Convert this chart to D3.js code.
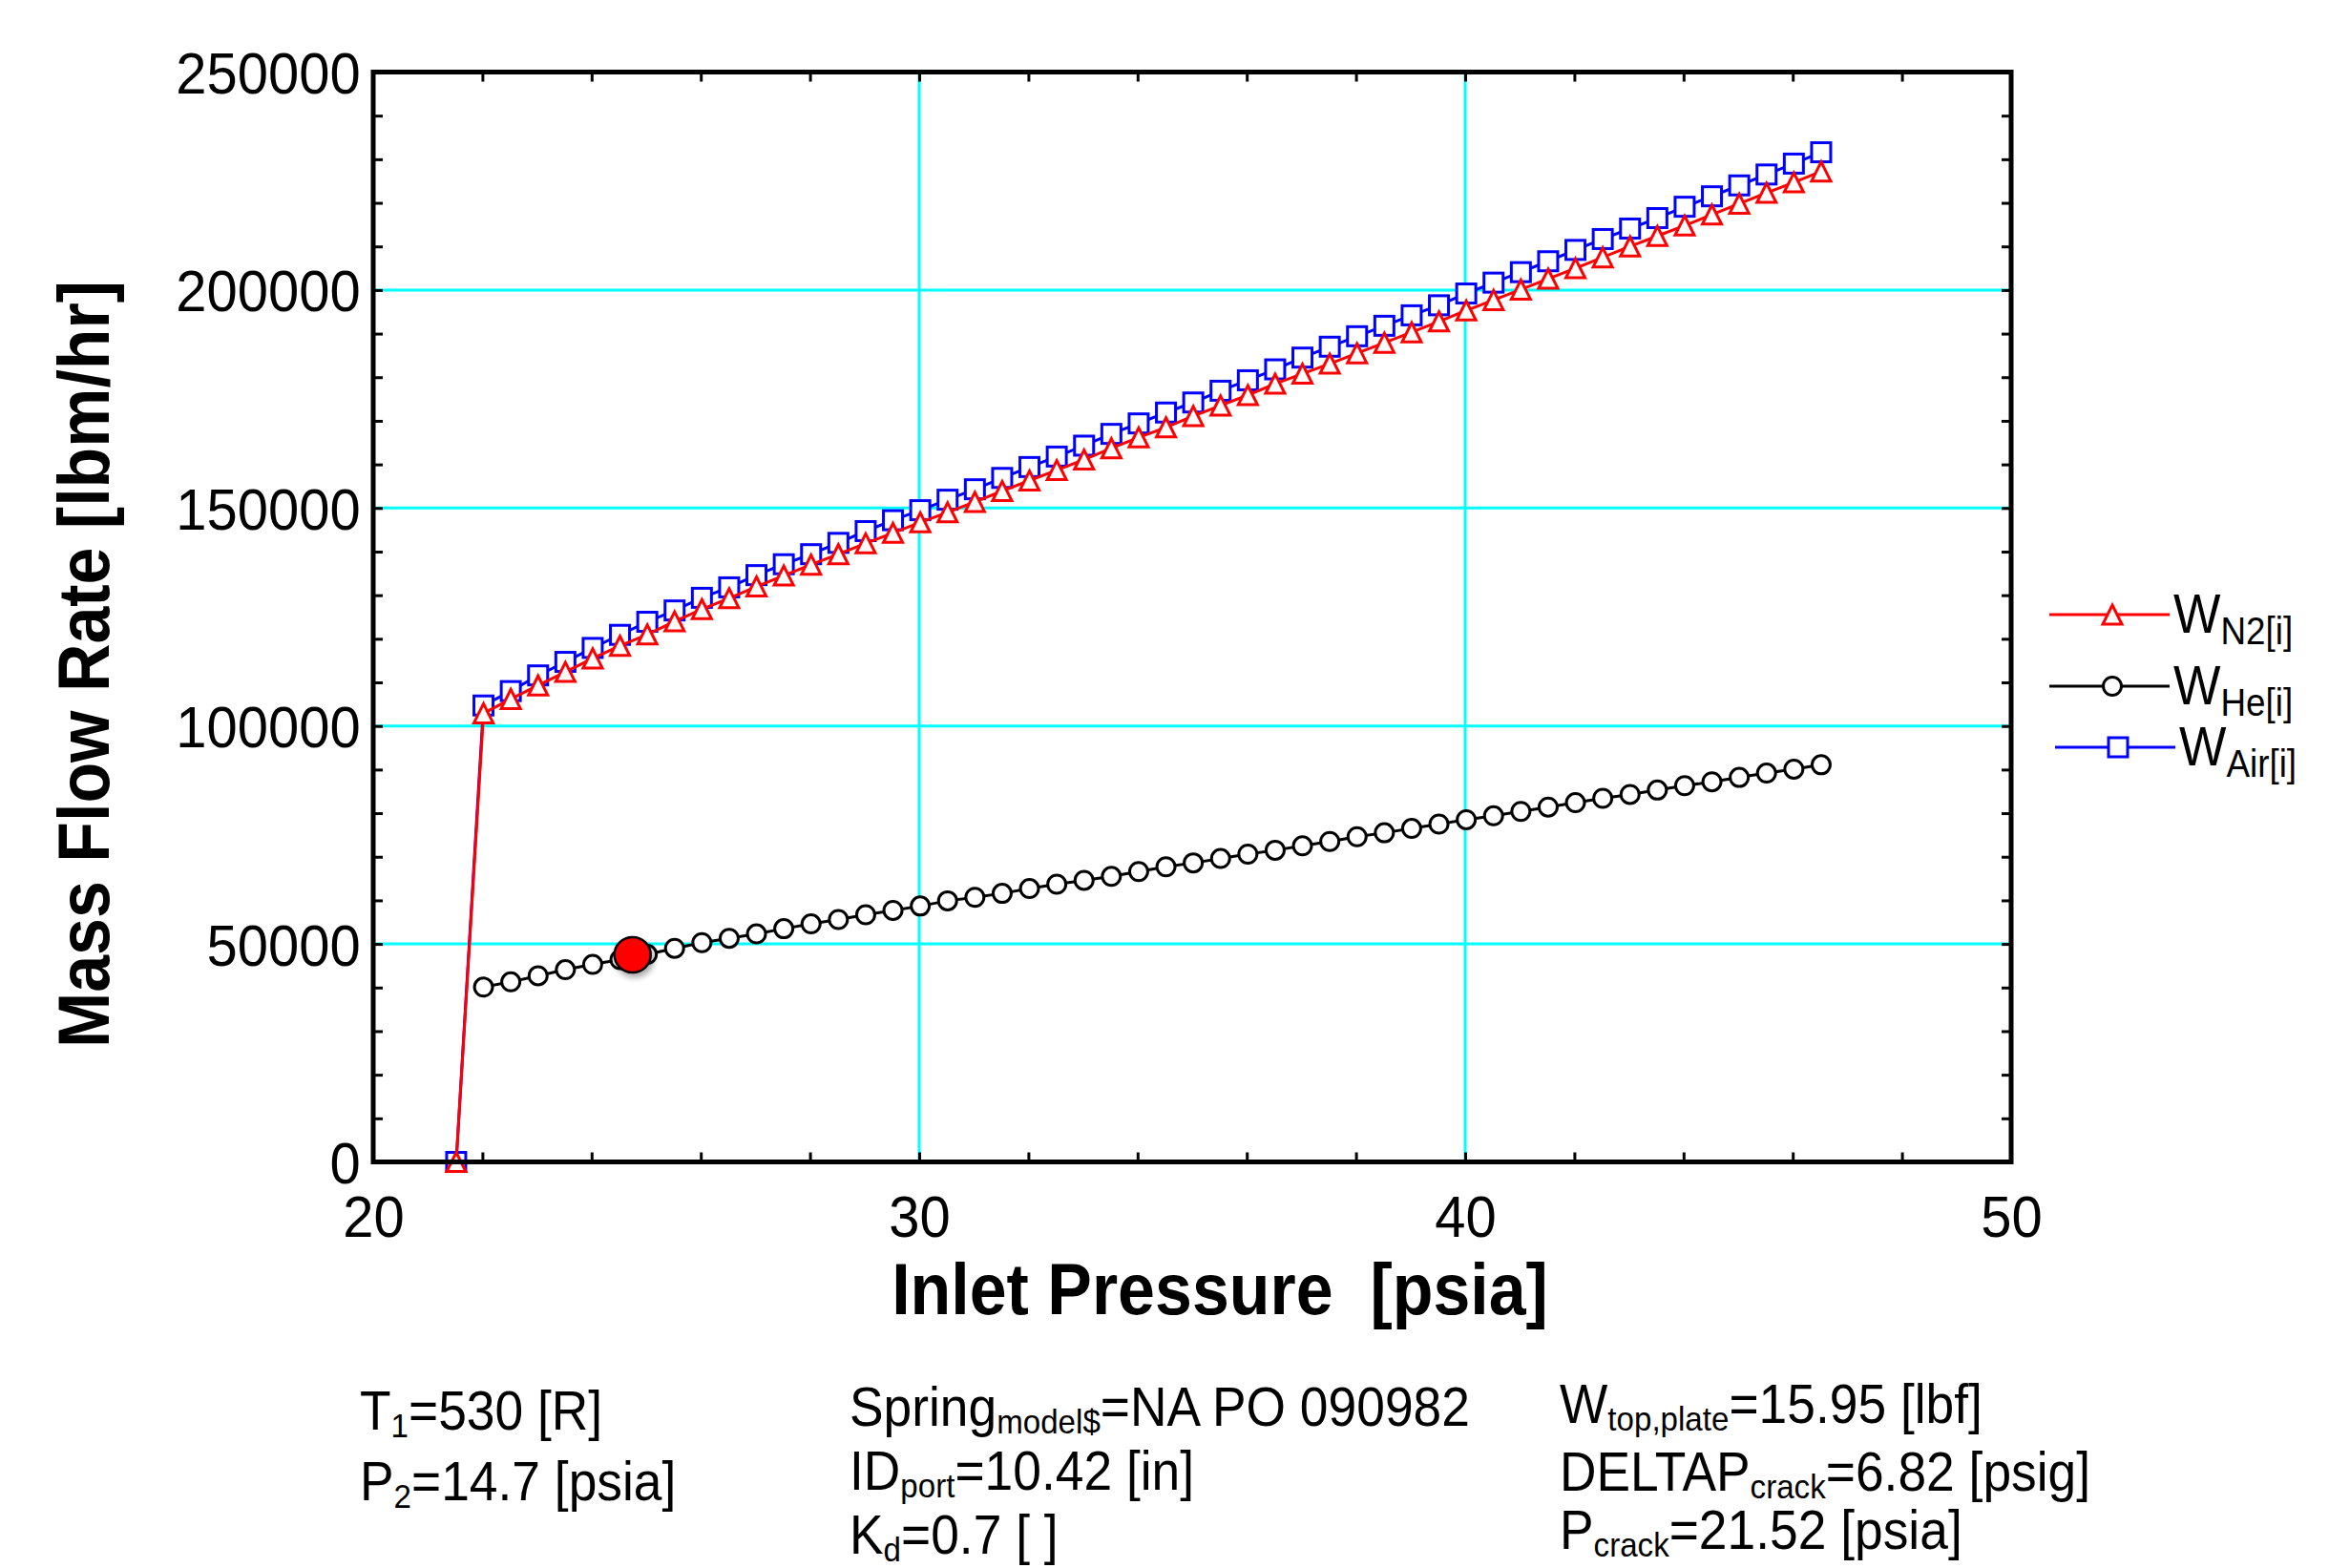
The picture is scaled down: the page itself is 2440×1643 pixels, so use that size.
<!DOCTYPE html>
<html>
<head>
<meta charset="utf-8">
<script src="https://cdn.jsdelivr.net/npm/d3@7"></script>
<style>
  body { margin: 0; background: #fff; }
  svg text { font-family: "Liberation Sans", Arial, sans-serif; fill: #000; }
</style>
</head>
<body>
<div id="chart"></div>
<script>
// Mass flow rate vs inlet pressure

const pressure = [21.52, 22.02, 22.52, 23.02, 23.52, 24.02, 24.52, 25.02, 25.52, 26.02,
    26.52, 27.02, 27.52, 28.02, 28.52, 29.02, 29.52, 30.02, 30.52, 31.02,
    31.52, 32.02, 32.52, 33.02, 33.52, 34.02, 34.52, 35.02, 35.52, 36.02,
    36.52, 37.02, 37.52, 38.02, 38.52, 39.02, 39.52, 40.02, 40.52, 41.02,
    41.52, 42.02, 42.52, 43.02, 43.52, 44.02, 44.52, 45.02, 45.52, 46.02, 46.52];

const wAir = [0, 104700, 108000, 111600, 114700, 117900, 120900, 123900, 126500, 129400,
    131800, 134600, 137100, 139400, 142000, 144700, 147200, 149500, 151900, 154300,
    156900, 159400, 161800, 164300, 167000, 169400, 171900, 174200, 176900, 179300,
    181800, 184500, 187000, 189400, 191800, 194200, 196500, 199200, 201700, 204100,
    206600, 209200, 211700, 214100, 216500, 219100, 221500, 224000, 226500, 229000, 231600];

const wN2 = [0, 102900, 106200, 109300, 112400, 115500, 118400, 121000, 124000, 126800,
    129300, 132000, 134500, 137000, 139400, 141900, 144300, 146700, 149000, 151400,
    153900, 156300, 158700, 161100, 163700, 166200, 168500, 171100, 173500, 175900,
    178500, 180800, 183100, 185500, 187900, 190300, 192800, 195300, 197700, 200100,
    202600, 205000, 207500, 210000, 212400, 214800, 217300, 219800, 222300, 224700, 227200];

// no helium value at the crack pressure
const wHe = [null, 40100, 41300, 42700, 44100, 45300, 46400, 47600, 49000, 50300,
    51300, 52300, 53500, 54600, 55600, 56700, 57700, 58700, 59900, 60700,
    61600, 62700, 63700, 64600, 65500, 66600, 67700, 68600, 69600, 70600,
    71500, 72500, 73500, 74600, 75500, 76500, 77500, 78500, 79400, 80400,
    81400, 82400, 83400, 84300, 85300, 86300, 87200, 88200, 89200, 90100, 91100];

const operatingPoint = {p: 24.75, w: 47500};

const xTicks = [20, 30, 40, 50];
const xMinorTicks = d3.range(20, 51, 2);
const yTicks = [0, 50000, 100000, 150000, 200000, 250000];
const yMinorTicks = d3.range(0, 250001, 10000);
const xGrid = [30, 40];
const yGrid = [50000, 100000, 150000, 200000];

const seriesNames = ["N2[i]", "He[i]", "Air[i]"];

const notes = [
    {x: 377, y: 1498, parts: [["T"], ["1", 1], ["=530 [R]"]]},
    {x: 377, y: 1572, parts: [["P"], ["2", 1], ["=14.7 [psia]"]]},
    {x: 890, y: 1494, parts: [["Spring"], ["model$", 1], ["=NA PO 090982"]]},
    {x: 890, y: 1561, parts: [["ID"], ["port", 1], ["=10.42 [in]"]]},
    {x: 890, y: 1628, parts: [["K"], ["d", 1], ["=0.7 [ ]"]]},
    {x: 1634, y: 1491, parts: [["W"], ["top,plate", 1], ["=15.95 [lbf]"]]},
    {x: 1634, y: 1562, parts: [["DELTAP"], ["crack", 1], ["=6.82 [psig]"]]},
    {x: 1634, y: 1623, parts: [["P"], ["crack", 1], ["=21.52 [psia]"]]}
];

const width = 2440, height = 1643;
const squish = 0.92;

const x = d3.scaleLinear().domain([20, 50]).range([391, 2107]);
const y = d3.scaleLinear().domain([0, 250000]).range([1217.5, 75.5]);

const svg = d3.select("#chart").append("svg")
    .attr("width", width)
    .attr("height", height);

const defs = svg.append("defs");
const shadow = defs.append("filter").attr("id", "shadow")
    .attr("x", "-50%").attr("y", "-50%").attr("width", "200%").attr("height", "200%");
shadow.append("feDropShadow")
    .attr("dx", 2).attr("dy", 4).attr("stdDeviation", 3)
    .attr("flood-color", "#000").attr("flood-opacity", 0.35);

// grid
svg.append("g").selectAll("line").data(xGrid).join("line")
    .attr("x1", d => x(d)).attr("x2", d => x(d))
    .attr("y1", y(0)).attr("y2", y(250000))
    .attr("stroke", "#00ffff").attr("stroke-width", 3);
svg.append("g").selectAll("line").data(yGrid).join("line")
    .attr("x1", x(20)).attr("x2", x(50))
    .attr("y1", d => y(d)).attr("y2", d => y(d))
    .attr("stroke", "#00ffff").attr("stroke-width", 3);

// inward minor ticks on all four sides
function tickAxis(axis, tx, ty) {
    const g = svg.append("g").attr("transform", `translate(${tx},${ty})`).call(axis);
    g.select(".domain").remove();
    g.selectAll(".tick line").attr("stroke", "#000").attr("stroke-width", 3);
    return g;
}
tickAxis(d3.axisBottom(x).tickValues(xMinorTicks).tickSize(-10).tickFormat(""), 0, y(0));
tickAxis(d3.axisTop(x).tickValues(xMinorTicks).tickSize(-10).tickFormat(""), 0, y(250000));
tickAxis(d3.axisLeft(y).tickValues(yMinorTicks).tickSize(-10).tickFormat(""), x(20), 0);
tickAxis(d3.axisRight(y).tickValues(yMinorTicks).tickSize(-10).tickFormat(""), x(50), 0);

// tick labels
const xLab = svg.append("g").attr("transform", `translate(0,${y(0)})`)
    .call(d3.axisBottom(x).tickValues(xTicks).tickSize(0).tickFormat(d3.format("d")));
xLab.select(".domain").remove();
xLab.selectAll("text").attr("y", 79).attr("dy", null)
    .attr("font-size", 61).attr("font-family", "Liberation Sans, Arial, sans-serif")
    .attr("transform", "scale(0.95,1)");

const yLab = svg.append("g").attr("transform", `translate(${x(20)},0)`)
    .call(d3.axisLeft(y).tickValues(yTicks).tickSize(0).tickFormat(d3.format("d")));
yLab.select(".domain").remove();
yLab.selectAll("text").attr("x", -14).attr("dy", "0.36em")
    .attr("font-size", 61).attr("font-family", "Liberation Sans, Arial, sans-serif")
    .attr("transform", "scale(0.95,1)");

// markers
function trianglePath(s) {
    const h = s / 2;
    return `M0,${-h}L${h},${h}L${-h},${h}Z`;
}
function drawMarker(g, kind, color) {
    if (kind === "square") {
        g.append("rect").attr("x", -10).attr("y", -10).attr("width", 20).attr("height", 20)
            .attr("fill", "#fff").attr("stroke", color).attr("stroke-width", 3);
    } else if (kind === "triangle") {
        g.append("path").attr("d", trianglePath(20))
            .attr("fill", "#fff").attr("stroke", color).attr("stroke-width", 3)
            .attr("stroke-linejoin", "miter");
    } else {
        g.append("circle").attr("r", 9.5).attr("fill", "#fff")
            .attr("stroke", color).attr("stroke-width", 3);
    }
}

const series = [
    {name: seriesNames[2], values: wAir, color: "#0000ff", marker: "square"},
    {name: seriesNames[1], values: wHe, color: "#000000", marker: "circle"},
    {name: seriesNames[0], values: wN2, color: "#ff0000", marker: "triangle"}
];

const line = d3.line()
    .defined(d => d[1] !== null)
    .x(d => x(d[0]))
    .y(d => y(d[1]));

series.forEach(s => {
    const pts = pressure.map((p, i) => [p, s.values[i]]);
    svg.append("path").datum(pts)
        .attr("d", line)
        .attr("fill", "none")
        .attr("stroke", s.color)
        .attr("stroke-width", 3);
    svg.append("g").selectAll("g").data(pts.filter(d => d[1] !== null)).join("g")
        .attr("transform", d => `translate(${x(d[0])},${y(d[1])})`)
        .each(function () { drawMarker(d3.select(this), s.marker, s.color); });
});

// operating point
svg.append("ellipse")
    .attr("cx", x(operatingPoint.p)).attr("cy", y(operatingPoint.w))
    .attr("rx", 19).attr("ry", 18.5)
    .attr("fill", "#ff0000").attr("stroke", "#000").attr("stroke-width", 2.5)
    .attr("filter", "url(#shadow)");

// frame
svg.append("rect")
    .attr("x", x(20)).attr("y", y(250000))
    .attr("width", x(50) - x(20)).attr("height", y(0) - y(250000))
    .attr("fill", "none").attr("stroke", "#000").attr("stroke-width", 5);

// text helper with subscripts
function richText(px, py, parts, size, subSize, drop) {
    const t = svg.append("text")
        .attr("transform", `translate(${px},${py}) scale(${squish},1)`)
        .attr("font-size", size);
    let shifted = false;
    parts.forEach(p => {
        const sp = t.append("tspan").text(p[0]);
        if (p[1] && !shifted) { sp.attr("font-size", subSize).attr("dy", drop); shifted = true; }
        else if (!p[1] && shifted) { sp.attr("dy", -drop); shifted = false; }
    });
    return t;
}

// axis titles
svg.append("text")
    .attr("transform", `translate(1278,1377) scale(${squish},1)`)
    .attr("text-anchor", "middle")
    .attr("font-size", 76).attr("font-weight", "bold")
    .attr("xml:space", "preserve")
    .style("white-space", "pre")
    .text("Inlet Pressure\u00a0\u00a0[psia]");

svg.append("text")
    .attr("transform", `translate(114,696) rotate(-90) scale(${squish},1)`)
    .attr("text-anchor", "middle")
    .attr("font-size", 76).attr("font-weight", "bold")
    .text("Mass Flow Rate [lbm/hr]");

// legend
const legendRows = [
    {name: seriesNames[0], color: "#ff0000", marker: "triangle", y: 644, x0: 2147},
    {name: seriesNames[1], color: "#000000", marker: "circle", y: 719, x0: 2147},
    {name: seriesNames[2], color: "#0000ff", marker: "square", y: 783, x0: 2153}
];
legendRows.forEach(r => {
    const g = svg.append("g");
    g.append("line").attr("x1", r.x0).attr("x2", r.x0 + 126)
        .attr("y1", r.y).attr("y2", r.y)
        .attr("stroke", r.color).attr("stroke-width", 3);
    const m = g.append("g").attr("transform", `translate(${r.x0 + 66},${r.y})`);
    drawMarker(m, r.marker, r.color);
    richText(r.x0 + 130, r.y + 19, [["W"], [r.name, 1]], 57, 40, 12);
});

// bottom notes
notes.forEach(n => richText(n.x, n.y, n.parts, 58, 36, 8));
</script>
</body>
</html>
